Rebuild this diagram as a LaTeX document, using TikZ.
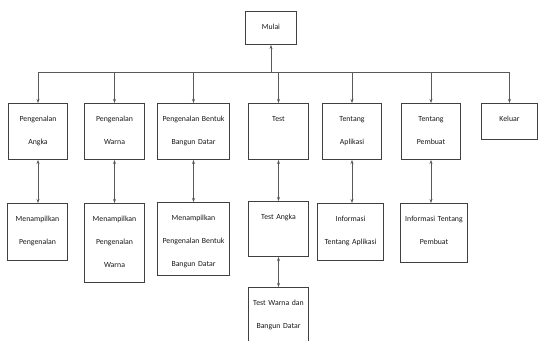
\documentclass[tikz,border=0pt]{standalone}
\usepackage{fontspec}
\setmainfont{Carlito}
\usetikzlibrary{arrows.meta}

\begin{document}
\begin{tikzpicture}[x=1pt,y=-1pt,
  box/.style 2 args={draw=black!75, line width=1pt, anchor=north west,
    inner sep=0pt, text width=#1, align=center, text height=18pt, text depth=#2,
    font=\fontsize{7.8}{23}\selectfont, text=black!90},
  link/.style={draw=black!65, line width=0.8pt},
  arr/.style={link, -{Stealth[length=4pt,width=3pt]}},
  dbl/.style={link, {Stealth[length=4pt,width=3pt]}-{Stealth[length=4pt,width=3pt]}}]
  \useasboundingbox (0,0) rectangle (538,340);
  % start
  \node[box={51pt}{15pt}] (mulai) at (245,11) {Mulai};
  % menu
  \node[box={59pt}{38pt}] (angka) at (8,103) {Pengenalan\\Angka};
  \node[box={60pt}{38pt}] (warna) at (84,103) {Pengenalan\\Warna};
  \node[box={72pt}{38pt}] (bentuk) at (157,103) {Pengenalan Bentuk\\Bangun Datar};
  \node[box={60pt}{38pt}] (test) at (248,103) {Test};
  \node[box={59pt}{38pt}] (aplikasi) at (322,103) {Tentang\\Aplikasi};
  \node[box={59pt}{38pt}] (pembuat) at (401,103) {Tentang\\Pembuat};
  \node[box={56pt}{18pt}] (keluar) at (481,103) {Keluar};
  % sub menu
  \node[box={60pt}{39pt}] (tampilangka) at (7,203) {Menampilkan\\Pengenalan};
  \node[box={60pt}{61pt}] (tampilwarna) at (84,203) {Menampilkan\\Pengenalan\\Warna};
  \node[box={72pt}{55pt}] (tampilbentuk) at (157,202) {Menampilkan\\Pengenalan Bentuk\\Bangun Datar};
  \node[box={60pt}{37pt}] (testangka) at (248,201) {Test Angka};
  \node[box={66pt}{39pt}] (infoaplikasi) at (317,203) {Informasi\\Tentang Aplikasi};
  \node[box={67pt}{41pt}] (infopembuat) at (400,203) {Informasi Tentang\\Pembuat};
  \node[box={60pt}{42pt}] (testwarna) at (248,287) {Test Warna dan\\Bangun Datar};

  \coordinate (busL) at (37.5,72);
  \coordinate (busR) at (509,72);
  \draw[link] (busL) -- (busR);
  \draw[arr] (mulai.south |- busL) -- (mulai.south);
  \foreach \n in {angka,warna,bentuk,test,aplikasi,pembuat,keluar}
    \draw[arr] (\n.north |- busL) -- (\n.north);
  \draw[dbl] (angka.south) -- (angka.south |- tampilangka.north);
  \draw[dbl] (warna.south) -- (warna.south |- tampilwarna.north);
  \draw[dbl] (bentuk.south) -- (bentuk.south |- tampilbentuk.north);
  \draw[dbl] (test.south) -- (testangka.north);
  \draw[dbl] (testangka.south) -- (testwarna.north);
  \draw[dbl] (aplikasi.south) -- (aplikasi.south |- infoaplikasi.north);
  \draw[dbl] (pembuat.south) -- (pembuat.south |- infopembuat.north);
\end{tikzpicture}
\end{document}
